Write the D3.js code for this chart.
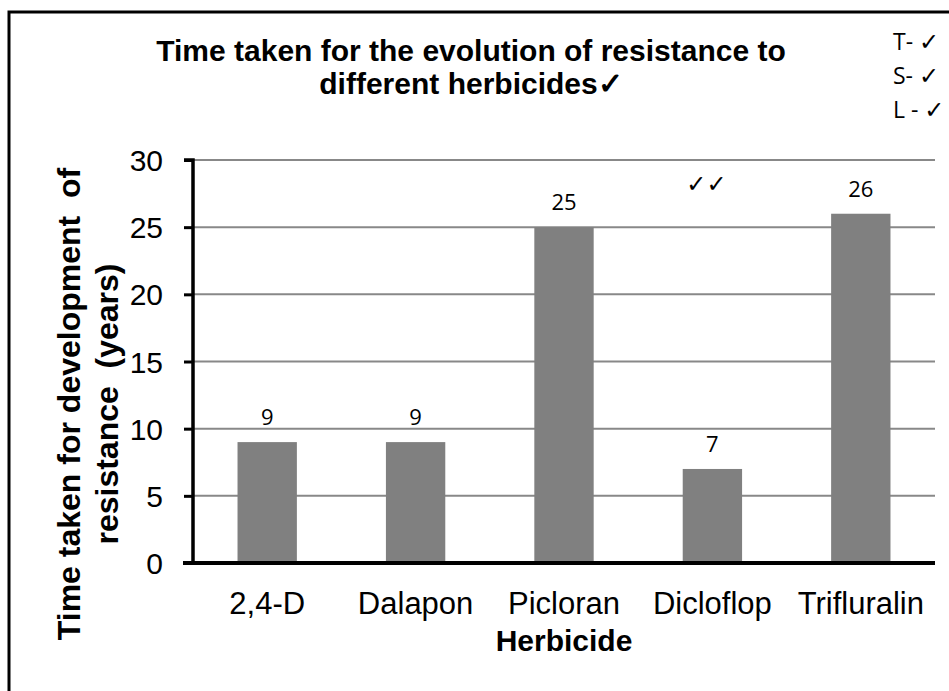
<!DOCTYPE html>
<html>
<head>
<meta charset="utf-8">
<script src="https://cdn.jsdelivr.net/npm/d3@7"></script>
<style>
  body { margin: 0; background: #fff; }
  text { font-family: "Liberation Sans", Arial, sans-serif; }
</style>
</head>
<body>
<div id="chart"></div>
<script>
const herbicides = ["2,4-D", "Dalapon", "Picloran", "Dicloflop", "Trifluralin"];
const years = [9, 9, 25, 7, 26];
const yTicks = [0, 5, 10, 15, 20, 25, 30];
const titleLines = ["Time taken for the evolution of resistance to", "different herbicides\u2713"];
const yTitleLines = ["Time taken for development  of", "resistance  (years)"];
const markLabels = ["T- ", "S- ", "L - "];

const W = 949, H = 691;
const margin = {top: 160, right: 14, bottom: 128, left: 193};

const svg = d3.select("#chart").append("svg")
    .attr("width", W)
    .attr("height", H);

// outer frame
svg.append("rect")
    .attr("x", 9).attr("y", 12)
    .attr("width", W + 20).attr("height", H + 20)
    .attr("fill", "white")
    .attr("stroke", "#000")
    .attr("stroke-width", 3);

const x = d3.scaleBand()
    .domain(herbicides)
    .range([margin.left, W - margin.right])
    .paddingInner(0.6)
    .paddingOuter(0.3);

const y = d3.scaleLinear()
    .domain([0, 30])
    .range([H - margin.bottom, margin.top]);

// gridlines
svg.append("g")
    .selectAll("line")
    .data(yTicks.filter(d => d > 0))
    .join("line")
    .attr("x1", margin.left).attr("x2", W - margin.right)
    .attr("y1", d => y(d)).attr("y2", d => y(d))
    .attr("stroke", "#888")
    .attr("stroke-width", 2);

// bars
svg.append("g")
    .selectAll("rect")
    .data(herbicides)
    .join("rect")
    .attr("x", d => x(d))
    .attr("width", x.bandwidth())
    .attr("y", (d, i) => y(years[i]))
    .attr("height", (d, i) => y(0) - y(years[i]))
    .attr("fill", "#808080");

// value labels
svg.append("g")
    .selectAll("text")
    .data(herbicides)
    .join("text")
    .attr("x", d => x(d) + x.bandwidth() / 2)
    .attr("y", (d, i) => y(years[i]) - 17)
    .attr("text-anchor", "middle")
    .style("font-family", "'Open Sans', 'Liberation Sans', sans-serif")
    .style("font-size", "22px")
    .text((d, i) => years[i]);

// y axis
const yAxis = svg.append("g")
    .attr("transform", `translate(${margin.left},0)`)
    .call(d3.axisLeft(y).tickValues(yTicks).tickSize(9).tickPadding(21));
yAxis.select(".domain").attr("stroke-width", 3.5).attr("d", `M-9,${y(30)}H0V${y(0)}`);
yAxis.selectAll(".tick line").attr("stroke-width", 3);
yAxis.selectAll(".tick text")
    .style("font-size", "30px")
    .style("font-family", "'Liberation Sans', Arial, sans-serif")
    .attr("dy", "0.35em");

// x axis
const xAxis = svg.append("g")
    .attr("transform", `translate(0,${y(0)})`)
    .call(d3.axisBottom(x).tickSize(0).tickPadding(29));
xAxis.select(".domain").attr("stroke-width", 4).attr("d", `M${margin.left - 10},0H${W - margin.right}`);
xAxis.selectAll(".tick text")
    .style("font-size", "31px")
    .style("font-family", "'Liberation Sans', Arial, sans-serif")
    .attr("dy", "0.71em");

// x axis title
svg.append("text")
    .attr("x", (margin.left + W - margin.right) / 2)
    .attr("y", 651)
    .attr("text-anchor", "middle")
    .style("font-size", "30px")
    .style("font-weight", "bold")
    .text("Herbicide");

// y axis title
svg.append("g")
    .attr("transform", "translate(0,404) rotate(-90)")
    .selectAll("text")
    .data(yTitleLines)
    .join("text")
    .attr("x", 0)
    .attr("y", (d, i) => 80 + i * 38)
    .attr("text-anchor", "middle")
    .style("font-size", "32px")
    .style("font-weight", "bold")
    .style("white-space", "pre")
    .text(d => d);

// chart title
svg.append("g")
    .selectAll("text")
    .data(titleLines)
    .join("text")
    .attr("x", 471)
    .attr("y", (d, i) => 61 + i * 33)
    .attr("text-anchor", "middle")
    .style("font-size", "30px")
    .style("font-weight", "bold")
    .text(d => d);

// marker notes at the top right
const marks = svg.append("g")
    .selectAll("text")
    .data(markLabels)
    .join("text")
    .attr("x", 893)
    .attr("y", (d, i) => 50 + i * 34)
    .style("font-family", "'Open Sans', 'Liberation Sans', sans-serif")
    .style("font-size", "23px")
    .style("white-space", "pre");
marks.append("tspan").text(d => d);
marks.append("tspan")
    .style("font-family", "'DejaVu Sans', sans-serif")
    .style("font-weight", "bold")
    .style("font-size", "24px")
    .text("\u2713");

// double tick over Dicloflop
svg.append("text")
    .attr("x", x("Dicloflop") + x.bandwidth() / 2 - 6)
    .attr("y", 192)
    .attr("text-anchor", "middle")
    .style("font-family", "'DejaVu Sans', sans-serif")
    .style("font-size", "24px")
    .style("font-weight", "bold")
    .text("\u2713\u2713");
</script>
</body>
</html>
